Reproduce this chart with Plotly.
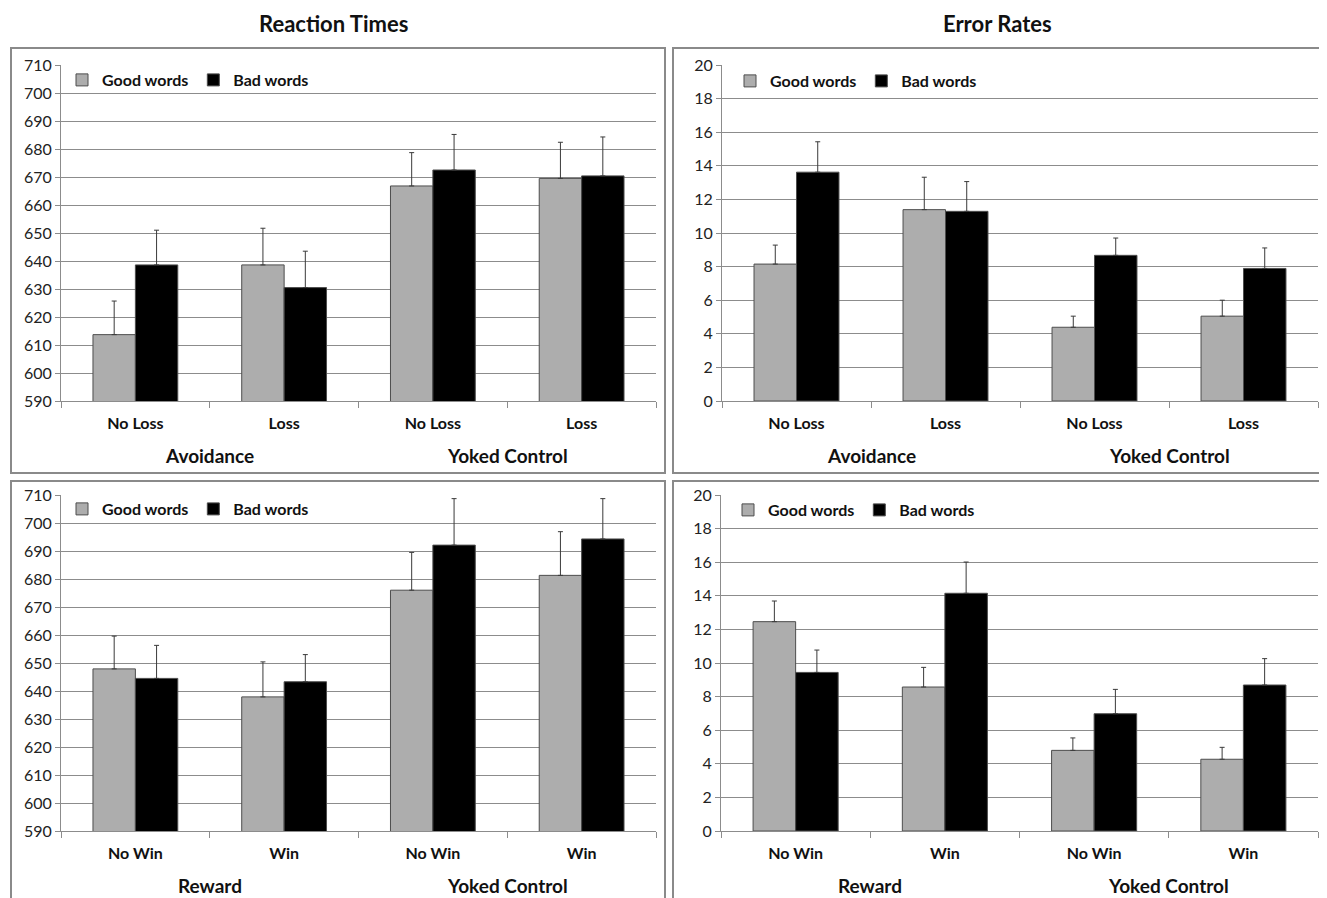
import plotly.graph_objects as go

# ---------------- data ----------------
conditions_top = ["No Loss", "Loss", "No Loss", "Loss"]
conditions_bottom = ["No Win", "Win", "No Win", "Win"]
groups_top = ["Avoidance", "Yoked Control"]
groups_bottom = ["Reward", "Yoked Control"]
series_names = ["Good words", "Bad words"]

rt_avoid_good = [613.7, 638.6, 666.8, 669.5]
rt_avoid_good_err = [12.0, 13.1, 11.9, 12.9]
rt_avoid_bad = [638.6, 630.5, 672.5, 670.4]
rt_avoid_bad_err = [12.4, 13.0, 12.7, 13.9]

er_avoid_good = [8.15, 11.39, 4.39, 5.05]
er_avoid_good_err = [1.13, 1.93, 0.66, 0.95]
er_avoid_bad = [13.62, 11.29, 8.67, 7.89]
er_avoid_bad_err = [1.81, 1.77, 1.03, 1.22]

rt_reward_good = [647.9, 637.9, 676.0, 681.3]
rt_reward_good_err = [11.7, 12.5, 13.5, 15.6]
rt_reward_bad = [644.5, 643.3, 692.1, 694.3]
rt_reward_bad_err = [11.8, 9.7, 16.6, 14.4]

er_reward_good = [12.46, 8.57, 4.80, 4.27]
er_reward_good_err = [1.23, 1.17, 0.74, 0.71]
er_reward_bad = [9.44, 14.15, 6.98, 8.69]
er_reward_bad_err = [1.33, 1.86, 1.45, 1.57]

rt_ticks = list(range(590, 711, 10))
er_ticks = list(range(0, 21, 2))

# ---------------- styling ----------------
W, H = 1327, 898
OFF = 8  # page body margin offset of the figure div
FONT = "Lato"
GOOD_COLOR = "#adadad"
BAD_COLOR = "#000000"
GRID = "#8c8c8c"
ERR = "#3a3a3a"


def px_x(p):
    return (p - OFF) / W


def px_y(p):
    return 1 - (p - OFF) / H


fig = go.Figure()

panels = [
    ("x", "y", "legend", conditions_top, groups_top, rt_avoid_good, rt_avoid_good_err,
     rt_avoid_bad, rt_avoid_bad_err, rt_ticks, (61, 656), (65, 401), (62, 80)),
    ("x2", "y2", "legend2", conditions_top, groups_top, er_avoid_good, er_avoid_good_err,
     er_avoid_bad, er_avoid_bad_err, er_ticks, (722, 1318), (65, 401), (730, 81)),
    ("x3", "y3", "legend3", conditions_bottom, groups_bottom, rt_reward_good, rt_reward_good_err,
     rt_reward_bad, rt_reward_bad_err, rt_ticks, (61, 656), (495, 831), (62, 509)),
    ("x4", "y4", "legend4", conditions_bottom, groups_bottom, er_reward_good, er_reward_good_err,
     er_reward_bad, er_reward_bad_err, er_ticks, (721, 1318), (495, 831), (728, 510)),
]

layout_updates = {}
annotations = []
for (xa, ya, lg, conds, groups, good, good_err, bad, bad_err, ticks, xd, yd, lpos) in panels:
    xpos = list(range(len(conds)))
    for name, vals, errs, color in [(series_names[0], good, good_err, GOOD_COLOR),
                                    (series_names[1], bad, bad_err, BAD_COLOR)]:
        fig.add_trace(go.Bar(
            x=xpos, y=vals, name=name, xaxis=xa, yaxis=ya, legend=lg,
            marker=dict(color=color, line=dict(color="#4d4d4d", width=1)),
            error_y=dict(type="data", array=errs, arrayminus=[0] * len(errs), symmetric=False,
                         color=ERR, thickness=1, width=2.5),
            showlegend=True,
        ))
    xkey = "xaxis" + xa[1:]
    ykey = "yaxis" + ya[1:]
    layout_updates[xkey] = dict(
        domain=[px_x(xd[0]), px_x(xd[1])], anchor=ya, automargin=False,
        range=[-0.5, len(conds) - 0.5],
        tickmode="array", tickvals=xpos, ticktext=conds, ticks="",
        ticklabelstandoff=8,
        tickfont=dict(family=FONT, size=16, color="#111", weight="bold"),
        showline=True, linecolor=GRID, linewidth=1,
        showgrid=False, zeroline=False, fixedrange=True,
        minor=dict(tickmode="linear", tick0=-0.5, dtick=1, ticks="outside",
                   ticklen=6, tickcolor=GRID, tickwidth=1, showgrid=False),
    )
    layout_updates[ykey] = dict(
        domain=[px_y(yd[1]), px_y(yd[0])], anchor=xa, automargin=False,
        range=[ticks[0], ticks[-1]],
        tickmode="array", tickvals=ticks,
        ticks="outside", ticklen=5, tickcolor=GRID,
        tickfont=dict(family=FONT, size=16, color="#222"),
        showline=True, linecolor=GRID, linewidth=1,
        showgrid=True, gridcolor=GRID, gridwidth=1, zeroline=False, fixedrange=True,
    )
    layout_updates[lg] = dict(
        x=px_x(lpos[0]), y=px_y(lpos[1]), xanchor="left", yanchor="middle",
        orientation="h", bgcolor="rgba(0,0,0,0)",
        font=dict(family=FONT, size=16, color="#111", weight="bold"),
        itemwidth=30, tracegroupgap=0, itemclick=False,
    )
    for gi, gname in enumerate(groups):
        annotations.append(dict(
            x=2 * gi + 0.5, y=px_y(yd[1] + 54), xref=xa, yref="paper",
            text=gname, showarrow=False, xanchor="center", yanchor="middle",
            font=dict(family=FONT, size=19, color="#111", weight="bold"),
        ))

annotations.append(dict(x=px_x(333), y=px_y(23), xref="paper", yref="paper", text="Reaction Times",
                        showarrow=False, xanchor="center", yanchor="middle",
                        font=dict(family=FONT, size=22, color="#111", weight="bold")))
annotations.append(dict(x=px_x(997), y=px_y(23), xref="paper", yref="paper", text="Error Rates",
                        showarrow=False, xanchor="center", yanchor="middle",
                        font=dict(family=FONT, size=22, color="#111", weight="bold")))

shapes = []
for (x0, y0, x1, y1) in [(11, 48, 665, 473), (673, 48, 1321, 473), (11, 481, 665, 915), (673, 481, 1321, 915)]:
    shapes.append(dict(type="rect", xref="paper", yref="paper",
                       x0=px_x(x0), x1=px_x(x1), y0=px_y(y1), y1=px_y(y0),
                       line=dict(color="#8a8a8a", width=2), layer="below"))

fig.update_layout(
    width=W, height=H,
    margin=dict(l=0, r=0, t=0, b=0, pad=0, autoexpand=False),
    paper_bgcolor="white", plot_bgcolor="white",
    barmode="group", bargap=0.43, bargroupgap=0,
    annotations=annotations, shapes=shapes,
    font=dict(family=FONT),
    **layout_updates,
)

fig.write_html("out.html")
